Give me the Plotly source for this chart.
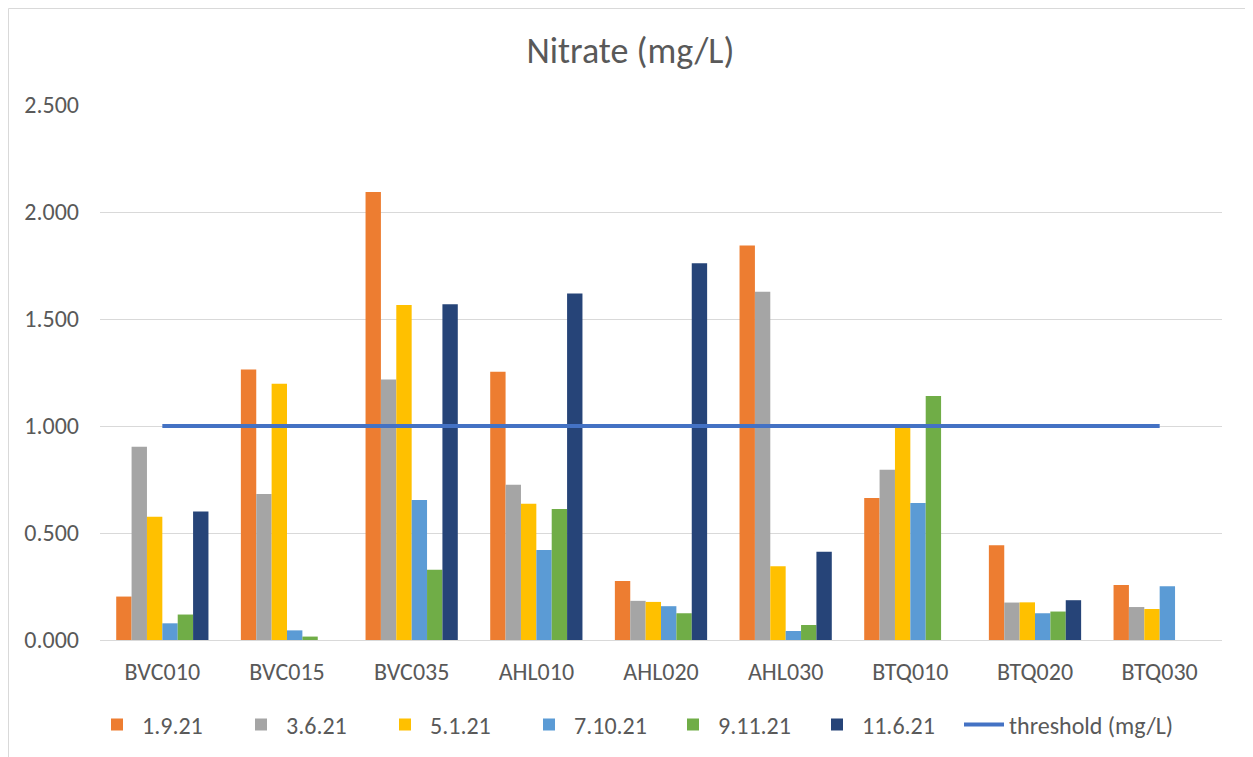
import plotly.graph_objects as go

categories = ["BVC010", "BVC015", "BVC035", "AHL010", "AHL020", "AHL030", "BTQ010", "BTQ020", "BTQ030"]
s_1_9_21 = [0.203, 1.264, 2.094, 1.254, 0.276, 1.844, 0.663, 0.443, 0.257]
s_3_6_21 = [0.903, 0.682, 1.217, 0.725, 0.183, 1.627, 0.796, 0.175, 0.154]
s_5_1_21 = [0.576, 1.197, 1.566, 0.637, 0.178, 0.345, 0.995, 0.176, 0.145]
s_7_10_21 = [0.078, 0.045, 0.654, 0.421, 0.158, 0.042, 0.640, 0.125, 0.251]
s_9_11_21 = [0.119, 0.016, 0.328, 0.612, 0.125, 0.070, 1.140, 0.133, None]
s_11_6_21 = [0.601, None, 1.569, 1.619, 1.760, 0.412, None, 0.186, None]
threshold = [1.0] * 9

series = [
    ("1.9.21", s_1_9_21, "#ED7D31"),
    ("3.6.21", s_3_6_21, "#A5A5A5"),
    ("5.1.21", s_5_1_21, "#FFC000"),
    ("7.10.21", s_7_10_21, "#5B9BD5"),
    ("9.11.21", s_9_11_21, "#70AD47"),
    ("11.6.21", s_11_6_21, "#264478"),
]

font_family = "Carlito, Calibri, 'Liberation Sans Narrow', 'Liberation Sans', sans-serif"
W, H = 1245, 749
L, R, T, B = 92, 31, 97, 117
PW, PH = W - L - R, H - T - B
leg_y = -(725 - 8 - T - PH) / PH

fig = go.Figure()
for name, vals, color in series:
    fig.add_trace(go.Bar(x=categories, y=vals, name=name, marker=dict(color=color, line=dict(width=0)),
                         legend="legend"))
fig.add_trace(go.Scatter(x=categories, y=threshold, name="threshold (mg/L)", mode="lines",
                         line=dict(color="#4472C4", width=4), legend="legend2"))

fig.update_layout(
    width=W, height=H,
    paper_bgcolor="white", plot_bgcolor="white",
    margin=dict(l=L, r=R, t=T, b=B, autoexpand=False),
    title=dict(text="Nitrate (mg/L)", x=0.5, xanchor="center", y=1 - 42 / H, yanchor="middle",
               font=dict(size=36, color="#595959", family=font_family)),
    barmode="group", bargap=0.26, bargroupgap=0,
    font=dict(family=font_family, color="#595959", size=24),
    legend=dict(orientation="h", x=(92 - 8 - L) / PW, xanchor="left", y=leg_y, yanchor="middle",
                font=dict(size=24, color="#595959"), itemwidth=40, tracegroupgap=0,
                entrywidth=89, entrywidthmode="pixels"),
    legend2=dict(orientation="h", x=(959 - 8 - L) / PW, xanchor="left", y=leg_y, yanchor="middle",
                 font=dict(size=24, color="#595959"), itemwidth=40),
    showlegend=True,
)
fig.update_yaxes(range=[0, 2.5], dtick=0.5, tickformat=".3f", gridcolor="#D9D9D9", gridwidth=1,
                 zeroline=False, showline=False, ticks="", tickfont=dict(size=24, color="#595959"),
                 ticklabelstandoff=20)
fig.update_xaxes(showline=True, linecolor="#D9D9D9", linewidth=1, ticks="",
                 tickfont=dict(size=24, color="#595959"), ticklabelstandoff=10)
fig.add_shape(type="rect", xref="paper", yref="paper",
              x0=(0.5 - L) / PW, x1=(W - 0.5 - L) / PW, y0=-(B + 10) / PH, y1=1 + (T - 0.5) / PH,
              line=dict(color="#D9D9D9", width=1), fillcolor="rgba(0,0,0,0)", layer="below")

fig.write_html("out.html")
